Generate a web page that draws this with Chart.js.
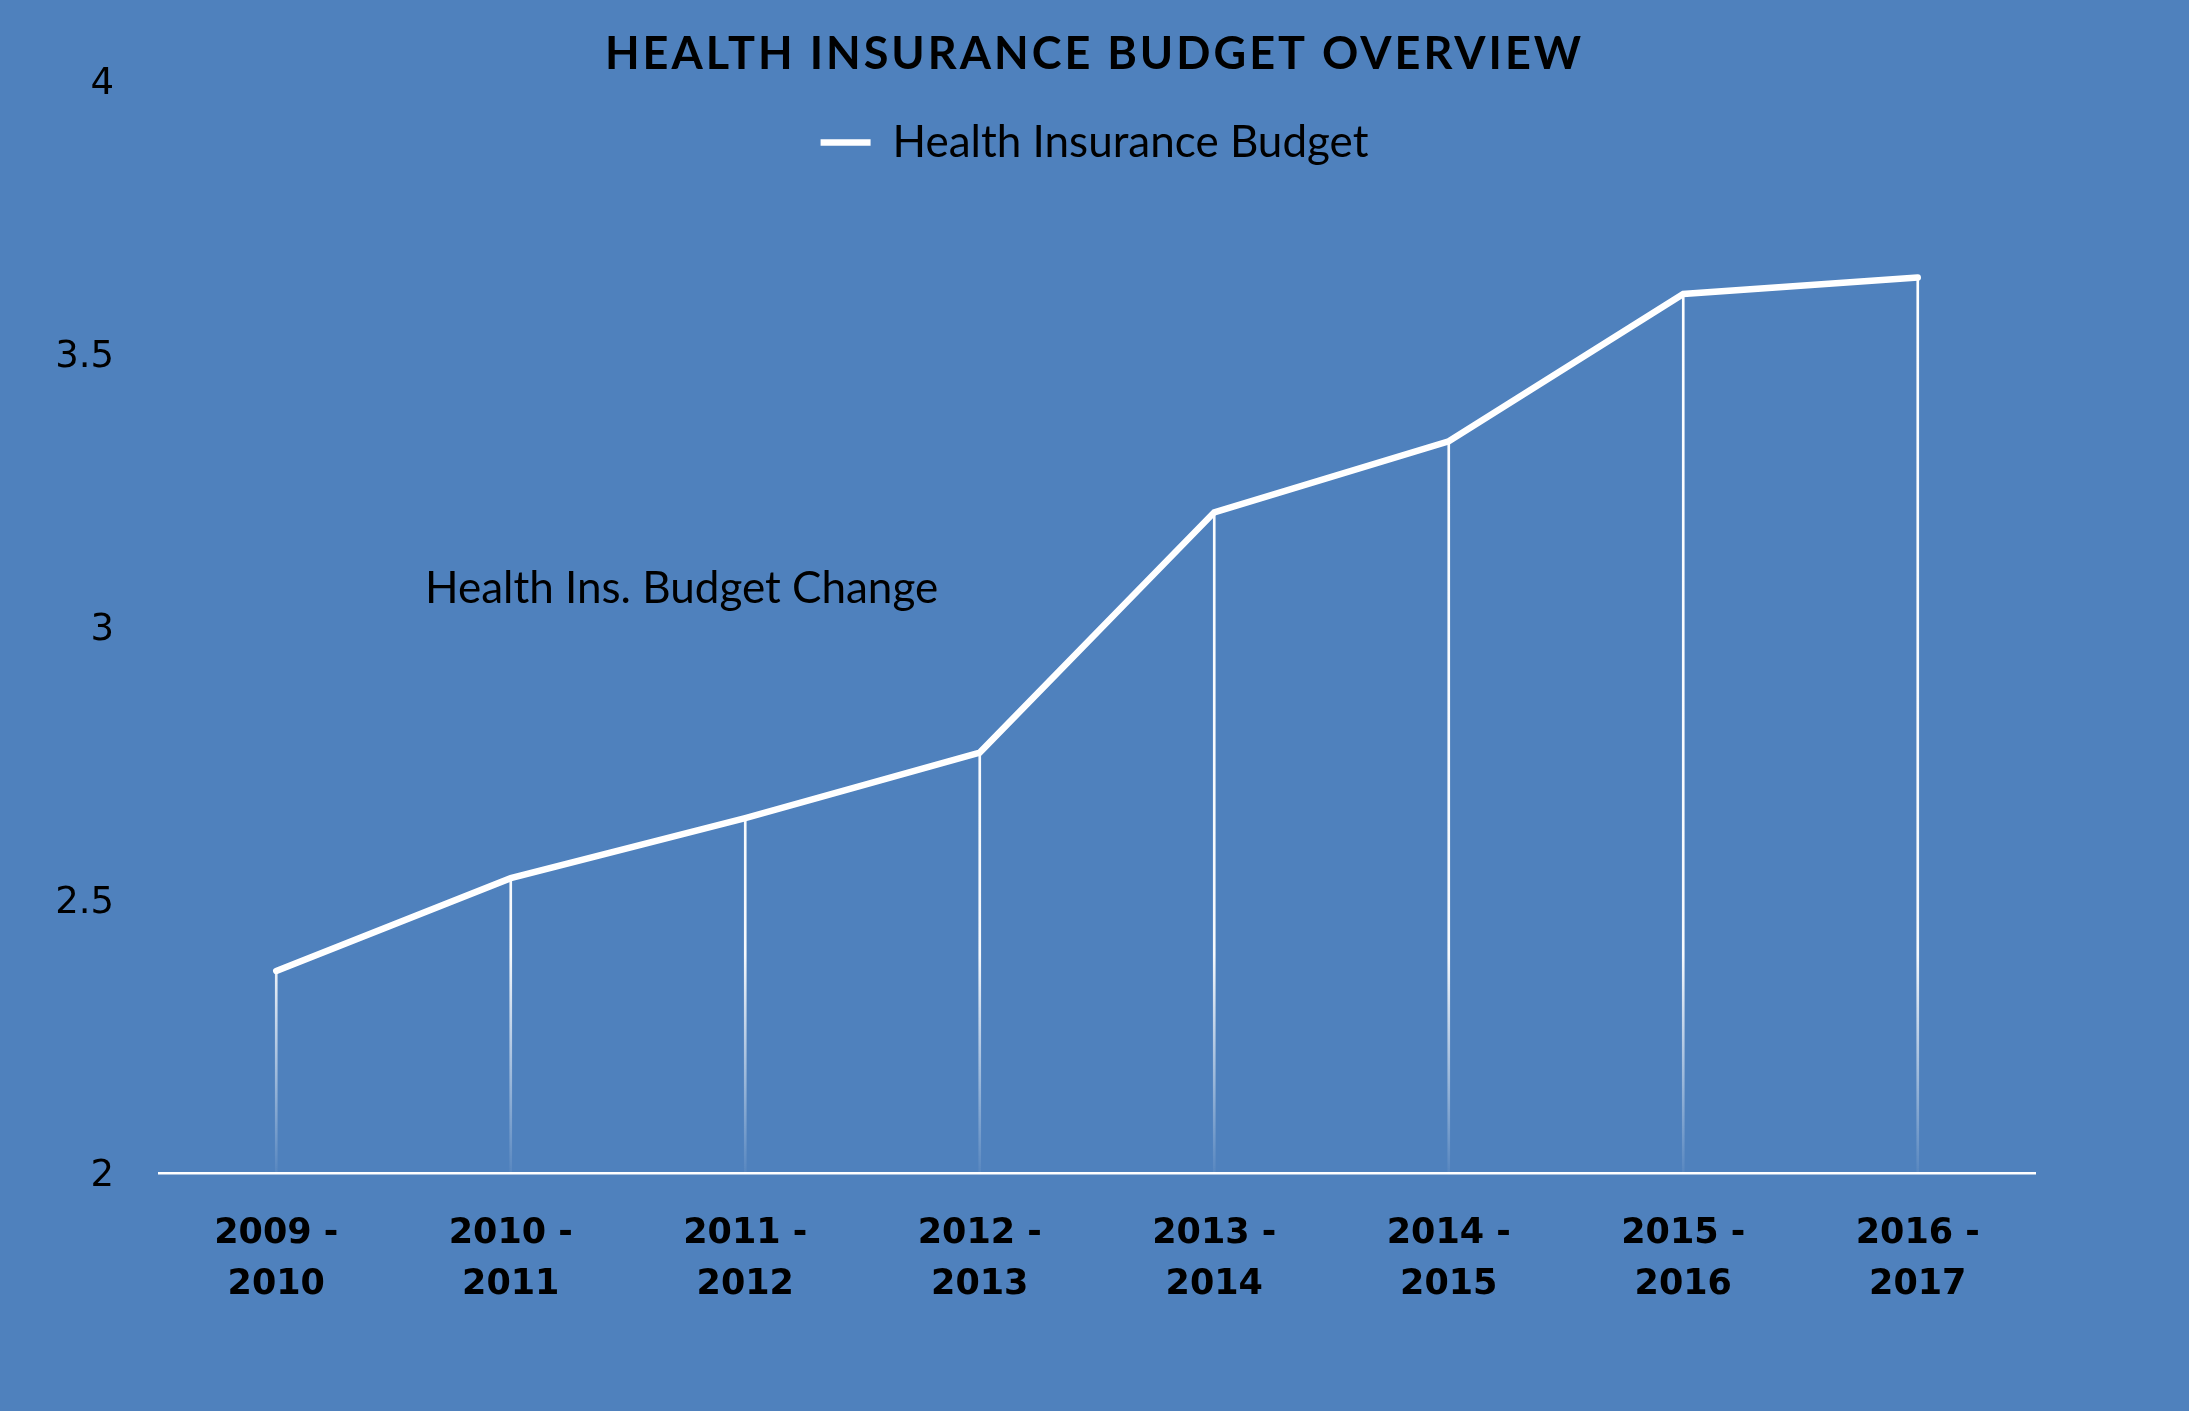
<!DOCTYPE html>
<html>
<head>
<meta charset="utf-8">
<script src="https://cdn.jsdelivr.net/npm/chart.js@4/dist/chart.umd.min.js"></script>
<style>
  html, body { margin: 0; padding: 0; background: #4F81BD; }
  #wrap { width: 2189px; height: 1411px; position: relative; background: #4F81BD; }
</style>
</head>
<body>
<div id="wrap"><canvas id="c"></canvas></div>
<script>
const categories = [
  ["2009 -", "2010"], ["2010 -", "2011"], ["2011 -", "2012"], ["2012 -", "2013"],
  ["2013 -", "2014"], ["2014 -", "2015"], ["2015 -", "2016"], ["2016 -", "2017"]
];
const budgetValues = [2.37, 2.54, 2.65, 2.77, 3.21, 3.34, 3.61, 3.64];
const yTickLabels = { 2: "2", 2.5: "2.5", 3: "3", 3.5: "3.5", 4: "4" };
const seriesName = "Health Insurance Budget";
const chartTitle = "HEALTH INSURANCE BUDGET OVERVIEW";
const noteText = "Health Ins. Budget Change";

const FONT = "Lato, 'Open Sans', sans-serif";
const AXIS_FONT = "'DejaVu Sans', Lato, sans-serif";

const notePlugin = {
  id: 'note',
  afterDatasetsDraw(chart) {
    const ctx = chart.ctx;
    const a = chart.chartArea;
    ctx.save();
    ctx.fillStyle = '#000';
    ctx.font = "44px " + FONT;
    ctx.textBaseline = 'middle';
    ctx.textAlign = 'left';
    ctx.fillText(noteText, a.left + 266, a.top + 508);
    ctx.restore();
  }
};

function dropGradient(context) {
  const chart = context.chart;
  const a = chart.chartArea;
  if (!a) return 'rgba(255,255,255,1)';
  const g = chart.ctx.createLinearGradient(0, a.top, 0, a.bottom);
  g.addColorStop(0, 'rgba(255,255,255,1)');
  g.addColorStop(0.8, 'rgba(255,255,255,0.95)');
  g.addColorStop(1, 'rgba(255,255,255,0.05)');
  return g;
}

const chart = new Chart(document.getElementById('c'), {
  data: {
    labels: categories,
    datasets: [
      {
        type: 'line',
        label: seriesName,
        data: budgetValues,
        borderColor: '#FFFFFF',
        backgroundColor: '#FFFFFF',
        borderWidth: 6.5,
        borderCapStyle: 'round',
        borderJoinStyle: 'miter',
        pointRadius: 0,
        pointHoverRadius: 0,
        tension: 0,
        order: 0
      },
      {
        type: 'bar',
        label: 'drop',
        data: budgetValues,
        backgroundColor: dropGradient,
        borderWidth: 0,
        barThickness: 2,
        order: 1
      }
    ]
  },
  options: {
    responsive: true,
    maintainAspectRatio: false,
    animation: false,
    devicePixelRatio: 1,
    layout: { padding: { left: 0, right: 0, top: 0, bottom: 0 } },
    plugins: {
      title: {
        display: true,
        text: chartTitle,
        color: '#000',
        font: { family: FONT, size: 45, weight: 'bold', lineHeight: 1.0 },
        padding: { top: 32, bottom: 0 }
      },
      legend: {
        display: true,
        position: 'top',
        labels: {
          color: '#000',
          font: { family: FONT, size: 44 },
          usePointStyle: true,
          pointStyle: 'line',
          pointStyleWidth: 50,
          padding: 43.5,
          filter: (item) => item.datasetIndex === 0
        }
      },
      tooltip: { enabled: false }
    },
    scales: {
      x: {
        offset: true,
        grid: { display: false, drawTicks: false },
        border: { display: true, color: '#FFFFFF', width: 2.5 },
        ticks: {
          color: '#000',
          font: { family: AXIS_FONT, size: 35, weight: 'bold', lineHeight: 1.457 },
          padding: 35,
          maxRotation: 0,
          autoSkip: false
        },
        afterFit: (s) => { s.height = 238; }
      },
      y: {
        min: 2,
        max: 4,
        grid: { display: false, drawTicks: false },
        border: { display: false },
        ticks: {
          stepSize: 0.5,
          color: '#000',
          font: { family: AXIS_FONT, size: 37 },
          padding: 45,
          labelOffset: 3,
          callback: (v) => yTickLabels[v] !== undefined ? yTickLabels[v] : ''
        },
        afterFit: (s) => { s.width = 159; }
      },
      yRight: {
        position: 'right',
        min: 2,
        max: 4,
        grid: { display: false, drawTicks: false },
        border: { display: false },
        ticks: { display: false },
        afterFit: (s) => { s.width = 154; }
      }
    }
  },
  plugins: [notePlugin]
});

// Legend overlaps the plot area like the original: tiny layout box, unclipped drawing
const legend = chart.legend;
const origFit = legend.fit;
legend.fit = function () {
  origFit.call(this);
  this.height = 4;
};
const origDraw = legend.draw;
legend.draw = function () {
  const b = this.bottom;
  this.bottom = this.top + 200;
  origDraw.call(this);
  this.bottom = b;
};
// Spaced-out title lettering
const titleBlock = chart.titleBlock;
const origTitleDraw = titleBlock.draw;
titleBlock.draw = function () {
  const ctx = this.ctx;
  const prev = ctx.letterSpacing;
  ctx.letterSpacing = '3px';
  origTitleDraw.call(this);
  ctx.letterSpacing = prev || '0px';
};
chart.update();
</script>
</body>
</html>
